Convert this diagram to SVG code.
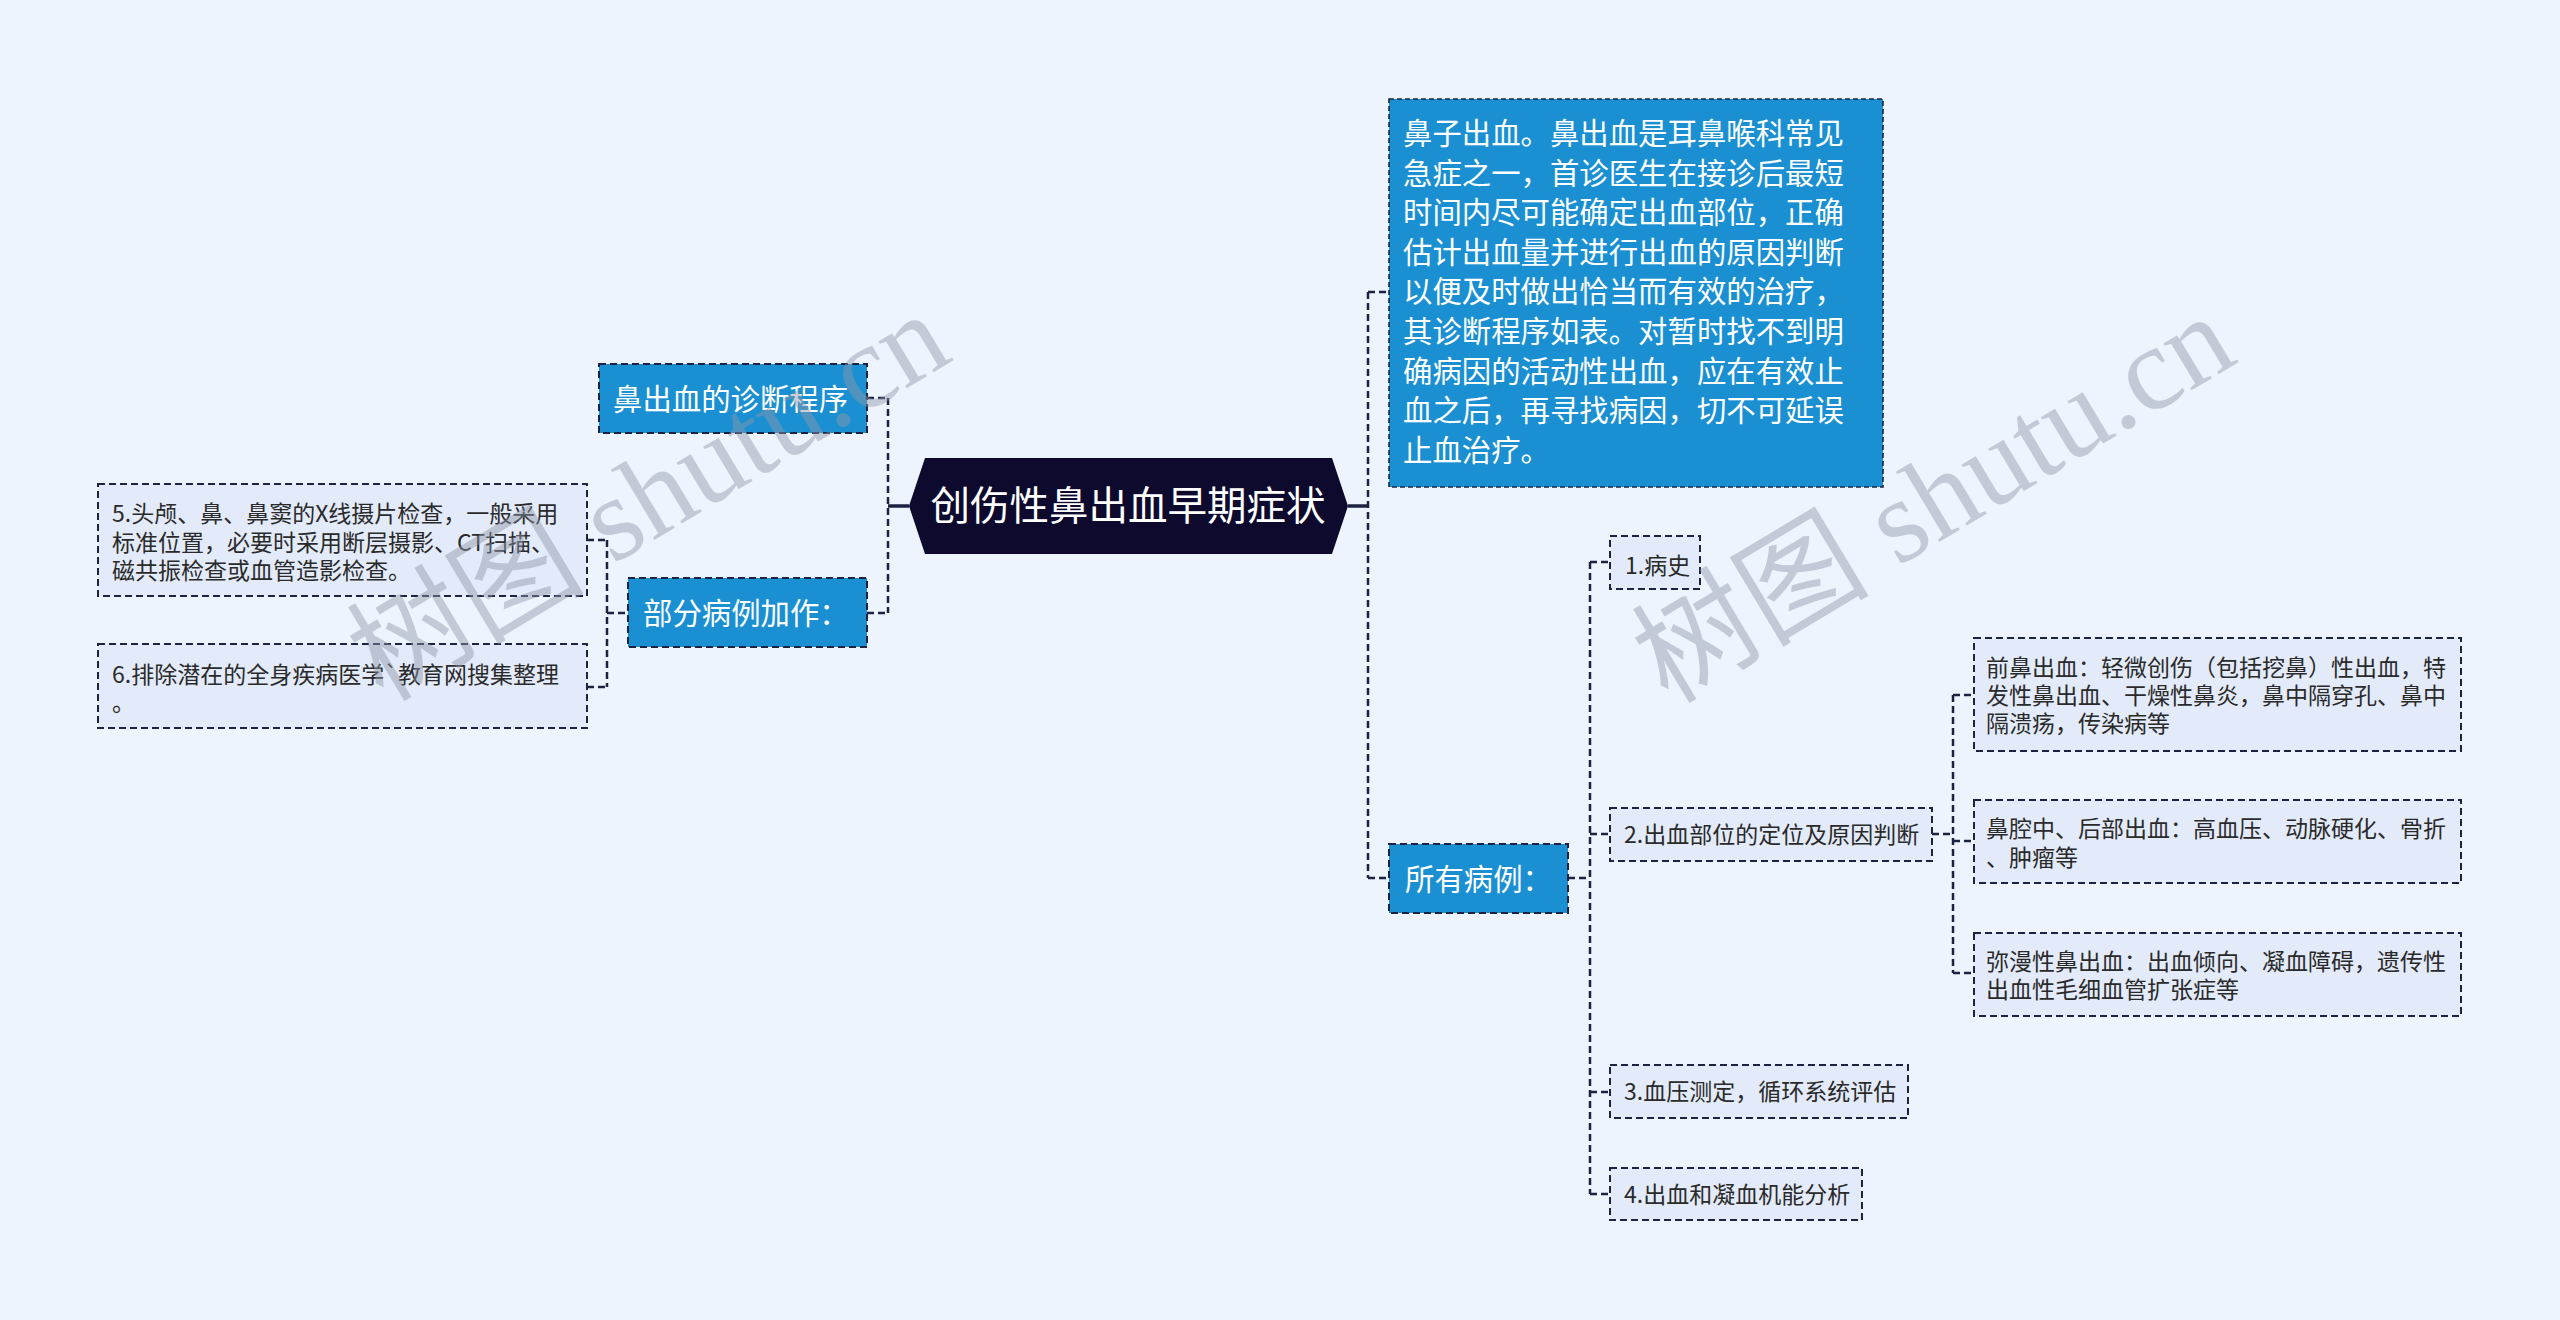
<svg xmlns="http://www.w3.org/2000/svg" width="2560" height="1320" viewBox="0 0 2560 1320">
<style>
text{font-family:"Noto Sans CJK SC","Noto Sans",sans-serif}
.l1{fill:#1a90d2;stroke:#1c2340;stroke-width:2;stroke-dasharray:7 4}
.big{fill:#1a90d2;stroke:#1c2340;stroke-width:1.6;stroke-dasharray:5 3}
.l3{fill:#e3ebfa;stroke:#1c2340;stroke-width:2;stroke-dasharray:7 4}
.t1{fill:#ffffff;font-size:29.4px}
.t3{fill:#2a2a2a;font-size:23px}
.c{fill:none;stroke:#1c2340;stroke-width:2.5;stroke-dasharray:7 4}
.cs{fill:none;stroke:#1c2340;stroke-width:3.5}
.wm{fill:#8f97a8;opacity:0.45;font-family:"Liberation Serif","Noto Sans CJK SC",serif;font-size:119px}
</style>
<rect width="2560" height="1320" fill="#eef4fe"/>
<g id="connectors">
<path class="cs" d="M909 506H888M1348 506H1368"/>
<path class="c" d="M888 398V613M867 398H888M867 613H888"/>
<path class="c" d="M607 540V687M587 540H607M587 687H607M607 613H628"/>
<path class="c" d="M1368 292V878M1368 292H1389M1368 878H1389"/>
<path class="c" d="M1590 562V1194M1568 878H1590M1590 562H1610M1590 834H1610M1590 1092H1610M1590 1194H1610"/>
<path class="c" d="M1953 695V973M1932 834H1953M1953 695H1974M1953 841H1974M1953 973H1974"/>
</g>
<g id="center">
<polygon points="909,506 925,458 1332,458 1348,506 1332,554 925,554" fill="#0d0a2e"/>
<text x="1128" y="520" text-anchor="middle" fill="#ffffff" font-size="39.5">创伤性鼻出血早期症状</text>
</g>
<g id="n-zhenduan">
<rect class="l1" x="599" y="364" width="268" height="69"/>
<text class="t1" x="613" y="410">鼻出血的诊断程序</text>
</g>
<g id="n-bufen">
<rect class="l1" x="628" y="578" width="239" height="69"/>
<text class="t1" x="643" y="624">部分病例加作：</text>
</g>
<g id="n-5">
<rect class="l3" x="98" y="484" width="489" height="112"/>
<text class="t3" x="112"><tspan x="112" y="522">5.头颅、鼻、鼻窦的X线摄片检查，一般采用</tspan><tspan x="112" y="551">标准位置，必要时采用断层摄影、CT扫描、</tspan><tspan x="112" y="579">磁共振检查或血管造影检查。</tspan></text>
</g>
<g id="n-6">
<rect class="l3" x="98" y="644" width="489" height="84"/>
<text class="t3" x="112"><tspan x="112" y="683">6.排除潜在的全身疾病医学`教育网搜集整理</tspan><tspan x="112" y="711">。</tspan></text>
</g>
<g id="n-big">
<rect class="big" x="1389" y="99" width="494" height="388"/>
<text class="t1" x="1403"><tspan x="1403" y="144">鼻子出血。鼻出血是耳鼻喉科常见</tspan><tspan x="1403" y="183.6">急症之一，首诊医生在接诊后最短</tspan><tspan x="1403" y="223.2">时间内尽可能确定出血部位，正确</tspan><tspan x="1403" y="262.8">估计出血量并进行出血的原因判断</tspan><tspan x="1403" y="302.4">以便及时做出恰当而有效的治疗，</tspan><tspan x="1403" y="342">其诊断程序如表。对暂时找不到明</tspan><tspan x="1403" y="381.6">确病因的活动性出血，应在有效止</tspan><tspan x="1403" y="421.2">血之后，再寻找病因，切不可延误</tspan><tspan x="1403" y="460.8">止血治疗。</tspan></text>
</g>
<g id="n-suoyou">
<rect class="l1" x="1389" y="844" width="179" height="69"/>
<text class="t1" x="1405" y="890">所有病例：</text>
</g>
<g id="n-1">
<rect class="l3" x="1610" y="536" width="90" height="53"/>
<text class="t3" x="1625" y="574">1.病史</text>
</g>
<g id="n-2">
<rect class="l3" x="1610" y="808" width="322" height="53"/>
<text class="t3" x="1624" y="843">2.出血部位的定位及原因判断</text>
</g>
<g id="n-3">
<rect class="l3" x="1610" y="1065" width="298" height="53"/>
<text class="t3" x="1624" y="1100">3.血压测定，循环系统评估</text>
</g>
<g id="n-4">
<rect class="l3" x="1610" y="1168" width="252" height="52"/>
<text class="t3" x="1624" y="1203">4.出血和凝血机能分析</text>
</g>
<g id="n-qian">
<rect class="l3" x="1974" y="638" width="487" height="113"/>
<text class="t3" x="1986"><tspan x="1986" y="676">前鼻出血：轻微创伤（包括挖鼻）性出血，特</tspan><tspan x="1986" y="704">发性鼻出血、干燥性鼻炎，鼻中隔穿孔、鼻中</tspan><tspan x="1986" y="732">隔溃疡，传染病等</tspan></text>
</g>
<g id="n-hou">
<rect class="l3" x="1974" y="800" width="487" height="83"/>
<text class="t3" x="1986"><tspan x="1986" y="837">鼻腔中、后部出血：高血压、动脉硬化、骨折</tspan><tspan x="1986" y="866">、肿瘤等</tspan></text>
</g>
<g id="n-mi">
<rect class="l3" x="1974" y="933" width="487" height="83"/>
<text class="t3" x="1986"><tspan x="1986" y="970">弥漫性鼻出血：出血倾向、凝血障碍，遗传性</tspan><tspan x="1986" y="998">出血性毛细血管扩张症等</tspan></text>
</g>
<g id="watermarks">
<text class="wm" transform="translate(383,703) rotate(-31)">树图 shutu.cn</text>
<text class="wm" transform="translate(1668,705) rotate(-31)">树图 shutu.cn</text>
</g>
</svg>
